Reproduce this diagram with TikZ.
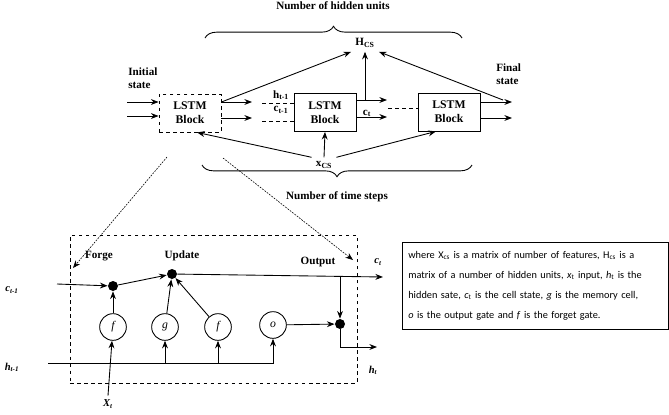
\documentclass[tikz,border=0pt]{standalone}
\usepackage{fontspec}
\setmainfont{Liberation Serif}
\newfontfamily\notefont{Carlito}
\usetikzlibrary{decorations.pathreplacing, arrows.meta}

\begin{document}
\begin{tikzpicture}[x=0.03cm, y=-0.03cm, >={Stealth[length=6.5pt, width=5pt]}, line width=0.75pt,
                font=\bfseries\fontsize{9.5}{11}\selectfont,
                block/.style={draw, minimum width=1.86cm, minimum height=1.14cm, align=center, inner sep=0pt, font=\bfseries\normalsize},
                gate/.style={circle, draw, minimum size=0.8cm, inner sep=0pt, font=\normalfont\itshape\normalsize},
                dot/.style={circle, fill, minimum size=0.3cm, inner sep=0pt},
                lbl/.style={font=\bfseries\itshape\small}]
                \useasboundingbox (0,0) rectangle (669,414);
                
                \node (B1) at (190,113) [block, dashed] {LSTM\\Block};
                \foreach \x / \y / \label in {325/112.5/B2, 449/112/B3}
                    \node (\label) at (\x,\y) [block] {LSTM\\Block};
                
                \node (H) at (365,43) {H\textsubscript{CS}};
                \node (X) at (324,165) {x\textsubscript{CS}};
                \node at (333,6) {Number of hidden units};
                \node at (337,197) {Number of time steps};
                \node [anchor=west, align=left] at (124,78) {Initial\\state};
                \node [anchor=west, align=left] at (492,74) {Final\\state};
                \node at (281,95) {h\textsubscript{t-1}};
                \node at (281,110) {c\textsubscript{t-1}};
                \node at (367,113) {c\textsubscript{t}};
                
                \foreach \x / \y / \label in {127/102/i1, 127/116/i2, 252/102/o1, 252/118/o2, 387/100/o3, 387/117/o4,
                        512/102/o5, 512/118/o6, 262/103/d1, 262/121/d2, 388/108/d3, 365/100/t2, 503/100/t3}
                    \coordinate (\label) at (\x,\y);
                
                \draw [->] (i1) -- (B1.west |- i1);
                \draw [->] (i2) -- (B1.west |- i2);
                \draw [->] (B1.east |- o1) -- (o1);
                \draw [->] (B1.east |- o2) -- (o2);
                \draw [->] (B1.east |- o1) -- (H.south west);
                \draw [dashed] (d1) -- (B2.west |- d1);
                \draw [dashed] (d2) -- (B2.west |- d2);
                \draw [->] (B2.east |- o3) -- (o3);
                \draw [->] (B2.east |- o4) -- (o4);
                \draw [->] (t2) -- (H.south -| t2);
                \draw [dashed] (d3) -- (B3.west |- d3);
                \draw [->] (B3.east |- o5) -- (o5);
                \draw [->] (B3.east |- o6) -- (o6);
                \draw [->] (t3) -- (H.south east);
                
                \draw [->] (X.north) -- (B2.south);
                \draw [->] (X.north west) -- (B1.-70);
                \draw [->] (X.north east) -- (B3.236);
                
                \draw [decorate, decoration={brace, amplitude=10pt}] (205,38) -- (462,38);
                \draw [decorate, decoration={brace, amplitude=10pt}] (472,165) -- (202,165);
                
                \node (cell) at (213.5,309) [draw, dashed, minimum width=8.61cm, minimum height=4.44cm] {};
                \foreach \x / \y / \label in {167/157/s1, 73/268/e1, 223/158/s2, 353/260/e2}
                    \coordinate (\label) at (\x,\y);
                \draw [->, line width=0.5pt, dash pattern=on 1.5pt off 1pt] (s1) -- (e1);
                \draw [->, line width=0.5pt, dash pattern=on 1.5pt off 1pt] (s2) -- (e2);
                
                \foreach \x / \y / \name / \letter in {113/327/f1/f, 165/327/g/g, 218/327/f2/f, 273/325/o/o}
                    \node (\name) at (\x,\y) [gate] {\letter};
                \foreach \x / \y / \name in {113/286/m1, 172/274/m2, 340/324/m3}
                    \node (\name) at (\x,\y) [dot] {};
                
                \node at (99,256) {Forge};
                \node at (182,256) {Update};
                \node at (318,262) {Output};
                \node (ct) at (378,262) [lbl] {c\textsubscript{t}};
                \node (cp) at (12,290) [lbl] {c\textsubscript{t-1}};
                \node (hp) at (12,367) [lbl] {h\textsubscript{t-1}};
                \node (ht) at (373,370) [lbl] {h\textsubscript{t}};
                \node (Xt) at (108,404) [lbl] {X\textsubscript{t}};
                
                \foreach \x / \y / \label in {57/284/cin, 383/277/cout, 340/276.5/ctap, 377/347/hout, 48/363/hin}
                    \coordinate (\label) at (\x,\y);
                
                \draw [->] (cin) -- (m1);
                \draw [->] (m1) -- (m2);
                \draw [->] (f1) -- (m1);
                \draw [->] (g) -- (m2);
                \draw [->] (f2) -- (m2);
                \draw [->] (m2) -- (cout);
                \draw [->] (ctap) -- (m3);
                \draw [->] (o) -- (m3);
                \draw [->] (m3) |- (hout);
                \draw [->] (hin) -| (o);
                \draw [->] (g.south |- hin) -- (g);
                \draw [->] (f2.south |- hin) -- (f2);
                \draw [->] (Xt.north) -- (f1);
                
                \node (note) at (535,285.5) [draw, minimum width=7.98cm, minimum height=2.61cm, text width=7.6cm, align=left,
                        font=\notefont\mdseries\fontsize{8.8}{17}\selectfont]
                    {where X\textsubscript{cs} is a matrix of number of features, H\textsubscript{cs} is a\\
                     matrix of a number of hidden units, \textit{x}\textsubscript{t} input, \textit{h}\textsubscript{t} is the\\
                     hidden sate, \textit{c}\textsubscript{t} is the cell state, \textit{g} is the memory cell,\\
                     \textit{o} is the output gate and \textit{f} is the forget gate.};
            \end{tikzpicture}
\end{document}
